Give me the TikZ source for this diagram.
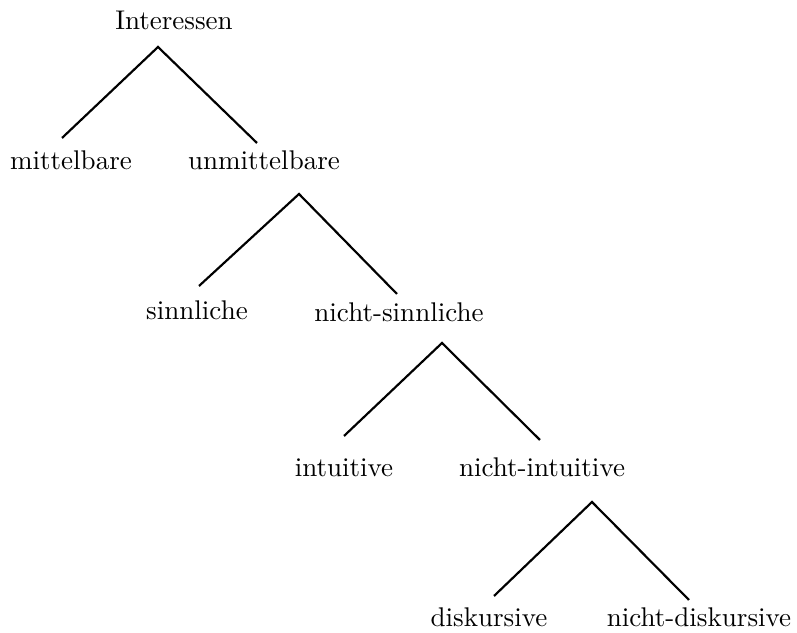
\documentclass[tikz,border=0pt]{standalone}
\usetikzlibrary{calc}

\begin{document}
\begin{tikzpicture}[x=0.013cm, y=-0.013cm, line width=0.8pt,
    term/.style={anchor=base, inner sep=0pt, text height=7pt, text depth=0pt}]
    \useasboundingbox (0,0) rectangle (797,633);
    % Begriffe
    \node[term] (interessen) at (174,30) {Interessen};
    \node[term] (mittelbare) at (71,170) {mittelbare};
    \node[term] (unmittelbare) at (264,170) {unmittelbare};
    \node[term] (sinnliche) at (197,320) {sinnliche};
    \node[term] (nichtsinnliche) at (399,322) {nicht-sinnliche};
    \node[term] (intuitive) at (344,477) {intuitive};
    \node[term] (nichtintuitive) at (542,477) {nicht-intuitive};
    \node[term] (diskursive) at (489,627) {diskursive};
    \node[term] (nichtdiskursive) at (699,627) {nicht-diskursive};
    % Verzweigungspunkte
    \coordinate (gabel0) at (158,47);
    \coordinate (gabel1) at (299,194);
    \coordinate (gabel2) at (442,343);
    \coordinate (gabel3) at (592,502);
    % Aeste
    \draw ([shift={(-9,-12)}]mittelbare.north) -- (gabel0) -- ([shift={(-7,-7)}]unmittelbare.north);
    \draw ([shift={(2,-14)}]sinnliche.north) -- (gabel1) -- ([shift={(-2,-8)}]nichtsinnliche.north);
    \draw ([shift={(0,-21)}]intuitive.north) -- (gabel2) -- ([shift={(-2,-17)}]nichtintuitive.north);
    \draw ([shift={(5,-11)}]diskursive.north) -- (gabel3) -- ([shift={(-10,-7)}]nichtdiskursive.north);
\end{tikzpicture}
\end{document}
